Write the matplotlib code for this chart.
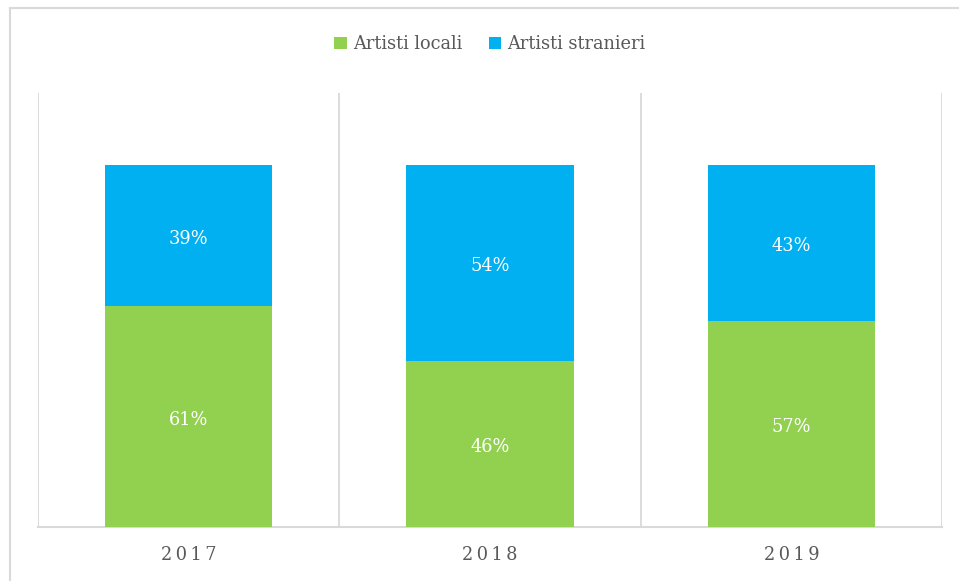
import matplotlib.pyplot as plt
import numpy as np
from matplotlib.lines import Line2D

anni = ['2017', '2018', '2019']
locali = [61, 46, 57]
stranieri = [39, 54, 43]

verde = '#92D050'
blu = '#00B0F0'
grigio = '#D9D9D9'
testo = '#595959'

plt.rcParams['font.family'] = ['DejaVu Serif']

fig = plt.figure(figsize=(9.59, 5.81), dpi=100)
ax = fig.add_axes([38/959, 54/581, 904/959, 434/581])

x = np.arange(len(anni))
loc = np.array(locali) / 100
stra = np.array(stranieri) / 100
ax.bar(x, loc, width=0.555, color=verde, label='Artisti locali', zorder=3)
ax.bar(x, stra, width=0.555, bottom=loc, color=blu, label='Artisti stranieri', zorder=3)

# etichette dei valori al centro di ogni segmento (leggermente sotto)
for i in range(len(anni)):
    ax.text(x[i], loc[i] / 2 - 0.009, f'{locali[i]}%', ha='center', va='center',
            color='white', fontsize=12.8, zorder=4)
    ax.text(x[i], loc[i] + stra[i] / 2 - 0.009, f'{stranieri[i]}%', ha='center', va='center',
            color='white', fontsize=12.8, zorder=4)

ax.set_xlim(-0.5, len(anni) - 0.5)
ax.set_ylim(0, 1.2)
ax.set_yticks([])
ax.set_xticks(x)
ax.set_xticklabels(['\u2009'.join(a) for a in anni], color=testo, fontsize=12.8)
ax.tick_params(axis='x', length=0, pad=14)
ax.set_xticks(np.arange(len(anni) + 1) - 0.5, minor=True)
ax.tick_params(axis='x', which='minor', length=0)
ax.grid(True, which='minor', axis='x', color=grigio, linewidth=1.3, zorder=0)

for s in ['top', 'left', 'right']:
    ax.spines[s].set_visible(False)
ax.spines['bottom'].set_color(grigio)
ax.spines['bottom'].set_linewidth(1.5)

leg = ax.legend(loc='center', bbox_to_anchor=(0.5, (581 - 44 - 54) / 434), ncol=2,
                frameon=False, fontsize=12.8, handlelength=0.7, handleheight=0.7,
                handletextpad=0.35, columnspacing=1.5)
for t in leg.get_texts():
    t.set_color(testo)

# cornice esterna
fig.add_artist(Line2D([10/959, 10/959], [0, 1 - 8/581], color=grigio, linewidth=1.5))
fig.add_artist(Line2D([10/959, 1], [1 - 8/581, 1 - 8/581], color=grigio, linewidth=1.5))

fig.savefig('out.png', dpi=100)
